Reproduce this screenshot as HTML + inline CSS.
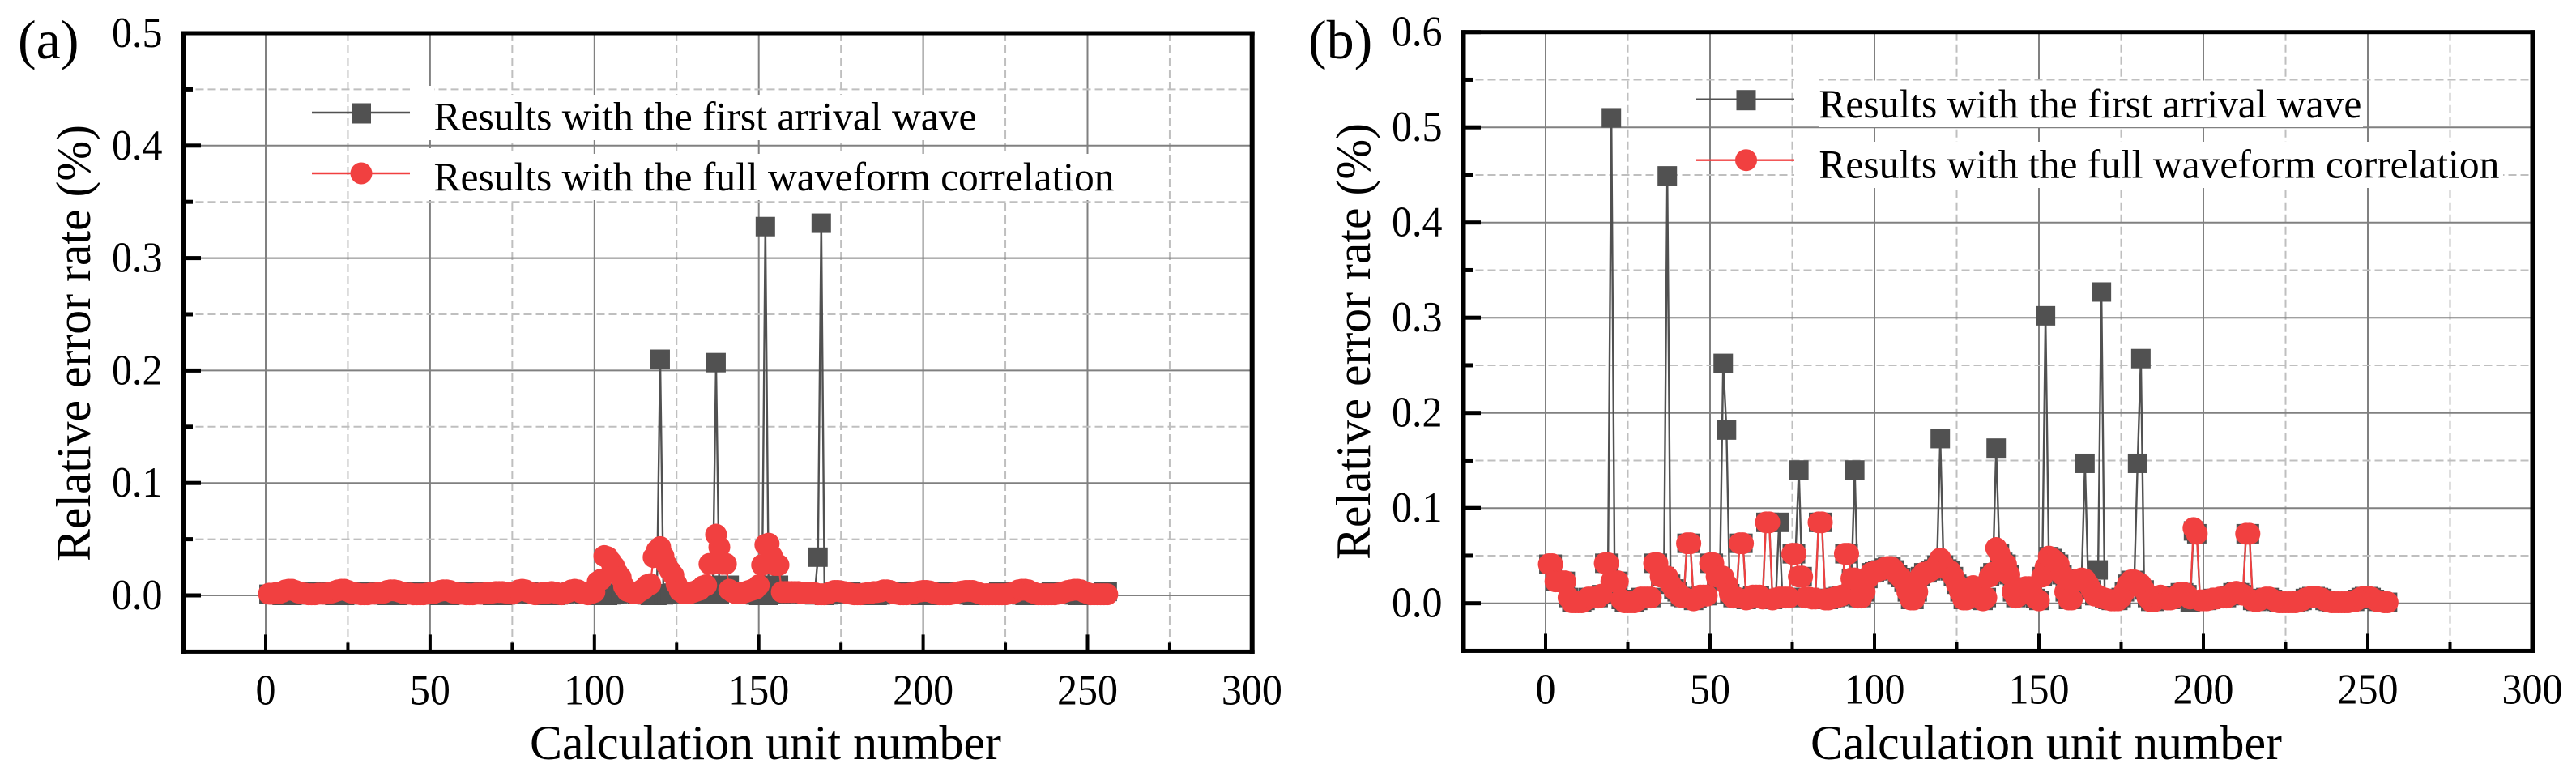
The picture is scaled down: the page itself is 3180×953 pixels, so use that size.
<!DOCTYPE html>
<html>
<head>
<meta charset="utf-8">
<title>Relative error rate charts</title>
<style>
html,body{margin:0;padding:0;background:#fff;}
svg{display:block;}
text{font-family:"Liberation Serif","Times New Roman",serif;fill:#000;}
</style>
</head>
<body>
<svg id="figure" xmlns="http://www.w3.org/2000/svg" width="3180" height="953" viewBox="0 0 3180 953"></svg>
<script>
const xTickValues = [0, 50, 100, 150, 200, 250, 300];
const yTicksA = [0.0, 0.1, 0.2, 0.3, 0.4, 0.5];
const yTicksB = [0.0, 0.1, 0.2, 0.3, 0.4, 0.5, 0.6];
const legendFirst = "Results with the first arrival wave";
const legendFull = "Results with the full waveform correlation";

const firstArrivalA = [
.001,.001,.001,.0005,.000,.000,.000,.000,.0005,.001,
.0015,.002,.003,.0035,.0035,.003,.001,.001,.001,.0005,
.000,.000,.000,.000,.0005,.001,.0015,.002,.003,.0035,
.0035,.003,.001,.001,.001,.0005,.000,.000,.000,.000,
.0005,.001,.0015,.002,.003,.0035,.0035,.003,.001,.001,
.001,.0005,.000,.000,.000,.000,.0005,.001,.0015,.002,
.003,.0035,.0035,.003,.001,.001,.001,.0005,.000,.000,
.000,.000,.0005,.001,.0015,.002,.003,.0035,.0035,.003,
.001,.001,.001,.0005,.000,.000,.000,.000,.0005,.001,
.0015,.002,.003,.0035,.0035,.003,.001,.001,.001,.0005,
.000,.000,.000,.000,.0005,.001,.0015,.002,.003,.0035,
.0035,.003,.001,.001,.001,.0005,.000,.000,.000,.210,
.0005,.001,.0015,.002,.003,.0035,.0035,.003,.001,.001,
.001,.003,.005,.005,.003,.001,.207,.001,.009,.009,
.009,.003,.0035,.0035,.003,.001,.001,.001,.0005,.000,
.000,.328,.000,.009,.009,.009,.001,.0015,.002,.003,
.0035,.0035,.003,.001,.001,.001,.0005,.034,.331,.000,
.0005,.001,.0015,.002,.003,.0035,.0035,.003,.001,.001,
.001,.0005,.000,.000,.000,.000,.0005,.001,.0015,.002,
.003,.0035,.0035,.003,.001,.001,.001,.0005,.000,.000,
.000,.000,.0005,.001,.0015,.002,.003,.0035,.0035,.003,
.001,.001,.001,.0005,.000,.000,.000,.000,.0005,.001,
.0015,.002,.003,.0035,.0035,.003,.001,.001,.001,.0005,
.000,.000,.000,.000,.0005,.001,.0015,.002,.003,.0035,
.0035,.003,.001,.001,.001,.0005,.000,.000,.000,.000,
.0005,.001,.0015,.002,.0035,.0035];

const fullWaveformA = [
.0015,.0015,.002,.002,.003,.0045,.005,.005,.004,.0025,
.002,.0015,.001,.001,.001,.0015,.0015,.0015,.002,.0025,
.0035,.0045,.005,.005,.004,.0025,.002,.0015,.001,.001,
.001,.0015,.0015,.002,.002,.0025,.004,.0045,.0045,.004,
.003,.002,.0015,.0015,.001,.001,.001,.001,.0015,.002,
.002,.003,.004,.0045,.0045,.004,.0025,.002,.0015,.0015,
.001,.001,.001,.0015,.0015,.0015,.002,.002,.0025,.003,
.003,.003,.0025,.002,.0015,.003,.0045,.005,.0045,.003,
.002,.001,.0015,.002,.002,.0025,.003,.0025,.0015,.001,
.002,.003,.0045,.005,.0045,.0025,.002,.001,.002,.003,
.012,.014,.035,.034,.030,.026,.020,.016,.008,.004,
.003,.002,.002,.004,.006,.009,.010,.034,.040,.043,
.035,.027,.022,.018,.010,.004,.002,.002,.002,.003,
.004,.005,.008,.009,.028,.028,.054,.043,.028,.028,
.005,.003,.002,.002,.002,.003,.004,.005,.006,.009,
.027,.045,.046,.035,.027,.027,.003,.003,.003,.003,
.003,.003,.002,.002,.002,.002,.002,.001,.001,.001,
.0015,.003,.004,.004,.0035,.003,.002,.0015,.001,.001,
.001,.0015,.002,.002,.003,.003,.0035,.0045,.0045,.004,
.002,.0015,.001,.001,.001,.0015,.002,.003,.0035,.004,
.004,.0035,.0025,.0015,.001,.001,.001,.001,.0015,.002,
.003,.0035,.004,.004,.004,.003,.002,.001,.001,.001,
.001,.001,.001,.001,.001,.0015,.002,.003,.0045,.005,
.005,.0045,.003,.002,.001,.001,.001,.001,.001,.001,
.0015,.002,.003,.004,.0045,.005,.005,.0045,.003,.002,
.001,.001,.001,.001,.001,.001];

const firstArrivalB = [
.041,.041,.023,.023,.023,.023,.006,.001,.001,.001,
.001,.003,.006,.006,.006,.006,.009,.042,.042,.510,
.023,.023,.004,.001,.001,.001,.001,.003,.006,.006,
.006,.006,.042,.042,.028,.028,.449,.020,.015,.012,
.007,.006,.063,.063,.003,.005,.008,.008,.008,.042,
.042,.028,.028,.252,.182,.010,.006,.006,.063,.063,
.004,.005,.008,.008,.008,.005,.085,.085,.004,.005,
.085,.006,.006,.006,.052,.052,.140,.028,.006,.006,
.005,.005,.085,.085,.004,.004,.005,.006,.007,.008,
.052,.052,.026,.140,.006,.006,.012,.026,.032,.033,
.034,.035,.037,.038,.038,.035,.030,.027,.022,.012,
.004,.004,.012,.028,.032,.032,.034,.036,.040,.173,
.040,.036,.034,.028,.020,.012,.004,.004,.010,.018,
.014,.008,.003,.006,.028,.032,.163,.052,.043,.041,
.030,.012,.006,.008,.012,.017,.017,.010,.005,.003,
.028,.302,.049,.047,.044,.041,.030,.012,.004,.004,
.024,.025,.026,.147,.020,.014,.008,.035,.327,.005,
.004,.003,.003,.003,.006,.012,.020,.024,.024,.147,
.257,.014,.006,.002,.002,.006,.008,.006,.004,.004,
.005,.008,.011,.011,.009,.001,.076,.073,.003,.003,
.003,.004,.005,.005,.006,.006,.006,.008,.011,.012,
.011,.009,.073,.073,.003,.002,.003,.005,.006,.006,
.004,.002,.001,.001,.001,.001,.001,.001,.002,.003,
.005,.006,.007,.007,.006,.005,.003,.002,.001,.001,
.001,.001,.001,.001,.002,.002,.004,.006,.007,.007,
.006,.004,.002,.002,.001,.001];

const fullWaveformB = [
.041,.041,.023,.023,.023,.023,.006,.001,.001,.001,
.001,.003,.006,.006,.006,.006,.009,.042,.042,.023,
.023,.023,.004,.001,.001,.001,.001,.003,.006,.006,
.006,.006,.042,.042,.028,.028,.028,.020,.015,.012,
.007,.006,.063,.063,.003,.005,.008,.008,.008,.042,
.042,.028,.028,.028,.020,.010,.006,.006,.063,.063,
.004,.005,.008,.008,.008,.005,.085,.085,.004,.005,
.006,.006,.006,.006,.052,.052,.028,.028,.006,.006,
.005,.005,.085,.085,.004,.004,.005,.006,.007,.008,
.052,.052,.026,.026,.006,.006,.012,.026,.032,.033,
.034,.035,.037,.038,.038,.035,.030,.027,.022,.012,
.004,.004,.012,.028,.032,.032,.034,.036,.040,.047,
.040,.036,.034,.028,.020,.012,.004,.004,.010,.018,
.014,.008,.003,.006,.028,.032,.058,.052,.043,.041,
.030,.012,.006,.008,.012,.017,.017,.010,.005,.003,
.028,.038,.049,.047,.044,.041,.030,.012,.004,.004,
.024,.025,.026,.025,.020,.014,.008,.008,.006,.005,
.004,.003,.003,.003,.006,.012,.020,.024,.024,.022,
.020,.014,.006,.002,.002,.006,.008,.006,.004,.004,
.005,.008,.011,.011,.009,.005,.079,.073,.003,.003,
.003,.004,.005,.005,.006,.006,.006,.008,.011,.012,
.011,.009,.073,.073,.003,.002,.003,.005,.006,.006,
.004,.002,.001,.001,.001,.001,.001,.001,.002,.003,
.005,.006,.007,.007,.006,.005,.003,.002,.001,.001,
.001,.001,.001,.001,.002,.002,.004,.006,.007,.007,
.006,.004,.002,.002,.001,.001];

const SVGNS = "http://www.w3.org/2000/svg";
const root = document.getElementById("figure");
const DARK = "#515151", RED = "#f14040", GRID = "#808080", MINOR = "#bfbfbf";

function make(tag, attrs, parent) {
  const el = document.createElementNS(SVGNS, tag);
  for (const k in attrs) el.setAttribute(k, attrs[k]);
  parent.appendChild(el);
  return el;
}

function labelWidth(s) {
  let w = 0;
  for (const c of s) w += (c === ".") ? 12.5 : 25;
  return w;
}

function drawPanel(cfg) {
  const g = make("g", {}, root);
  
  
  const sx = v => cfg.x0 + (v - 0) * cfg.pxPerX;
  const sy = v => cfg.y0 - v * cfg.pxPerY;
  const step = xTickValues[1] - xTickValues[0];
  const yStep = cfg.yTicks[1] - cfg.yTicks[0];
  const left = cfg.left, right = cfg.right, top = sy(cfg.yTicks[cfg.yTicks.length - 1]), bottom = sy(-yStep / 2);

  // grid
  const grid = make("g", {}, g);
  
  
  xTickValues.forEach(v => {
    if (sx(v) < right - 3) {
      const l = make("line", {x1: sx(v), x2: sx(v), y1: top, y2: bottom, stroke: GRID, "stroke-width": 2}, grid);
      
      
    }
    const mv = v + step / 2;
    if (sx(mv) < right - 3) {
      const m = make("line", {x1: sx(mv), x2: sx(mv), y1: top, y2: bottom, stroke: MINOR, "stroke-width": 2, "stroke-dasharray": "10 5"}, grid);
      
      
    }
  });
  cfg.yTicks.forEach((v, i) => {
    if (i < cfg.yTicks.length - 1) {
      const l = make("line", {x1: left, x2: right, y1: sy(v), y2: sy(v), stroke: GRID, "stroke-width": 2}, grid);
      
      
      const m = make("line", {x1: left, x2: right, y1: sy(v + yStep / 2), y2: sy(v + yStep / 2), stroke: MINOR, "stroke-width": 2, "stroke-dasharray": "10 5"}, grid);
      
      
    }
  });

  // white masks behind legend text
  cfg.masks.forEach(b => {
    const r = make("rect", {x: b[0], y: b[1], width: b[2], height: b[3], fill: "#fff"}, g);
    
    
  });

  // series: first arrival
  const s1 = make("g", {}, g);
  
  
  const p1 = make("polyline", {points: cfg.first.map((v, i) => sx(i + 1) + "," + sy(v)).join(" "), fill: "none", stroke: DARK, "stroke-width": 2.4}, s1);
  
  
  cfg.first.forEach((v, i) => {
    const r = make("rect", {x: sx(i + 1) - 12, y: sy(v) - 12, width: 24, height: 24, fill: DARK}, s1);
    
    
  });

  // series: full waveform
  const s2 = make("g", {}, g);
  
  
  const p2 = make("polyline", {points: cfg.full.map((v, i) => sx(i + 1) + "," + sy(v)).join(" "), fill: "none", stroke: RED, "stroke-width": 2.2}, s2);
  
  
  cfg.full.forEach((v, i) => {
    const c = make("circle", {cx: sx(i + 1), cy: sy(v), r: 13.5, fill: RED}, s2);
    
    
  });

  // spines
  [[left - 3, top - 2.5, 6, bottom - top + 5], [right - 3, top - 2.5, 6, bottom - top + 5],
   [left - 3, top - 2.5, right - left + 6, 5], [left - 3, bottom - 2.5, right - left + 6, 5]].forEach(b => {
    const r = make("rect", {x: b[0], y: b[1], width: b[2], height: b[3], fill: "#000"}, g);
    
    
  });

  // y ticks + labels
  cfg.yTicks.forEach((v, i) => {
    const t = make("rect", {x: left, y: sy(v) - 2.5, width: 21.5, height: 5, fill: "#000"}, g);
    
    
    if (i < cfg.yTicks.length - 1) {
      const m = make("rect", {x: left, y: sy(v + yStep / 2) - 2.5, width: 11.5, height: 5, fill: "#000"}, g);
      
      
    }
    const s = v.toFixed(1);
    const tx = make("text", {x: left - 26, y: sy(v) + 17, "font-size": 53, "text-anchor": "end", textLength: labelWidth(s), lengthAdjust: "spacingAndGlyphs"}, g);
    
    
    tx.textContent = s;
  });

  // x ticks + labels
  xTickValues.forEach(v => {
    if (sx(v) < right - 3) {
      const t = make("rect", {x: sx(v) - 2, y: bottom - 21, width: 4, height: 21, fill: "#000"}, g);
      
      
    }
    const mv = v + step / 2;
    if (sx(mv) < right - 3) {
      const m = make("rect", {x: sx(mv) - 2, y: bottom - 11, width: 4, height: 11, fill: "#000"}, g);
      
      
    }
    const s = String(v);
    const tx = make("text", {x: sx(v), y: bottom + 65, "font-size": 53, "text-anchor": "middle", textLength: labelWidth(s), lengthAdjust: "spacingAndGlyphs"}, g);
    
    
    tx.textContent = s;
  });

  // axis titles
  const xt = make("text", {x: cfg.xTitleX, y: 937, "font-size": 60, textLength: 582, lengthAdjust: "spacingAndGlyphs"}, g);
  
  
  xt.textContent = "Calculation unit number";
  const yt = make("text", {x: 0, y: 0, "font-size": 60, "text-anchor": "middle", textLength: 539, lengthAdjust: "spacingAndGlyphs", transform: "translate(" + cfg.yTitleX + "," + cfg.yTitleY + ") rotate(-90)"}, g);
  
  
  yt.textContent = "Relative error rate (%)";

  // panel tag
  const tag = make("text", {x: cfg.tagX, y: 72, "font-size": 68}, g);
  
  
  tag.textContent = cfg.tag;

  // legend
  const lg = make("g", {}, g);
  
  
  const l1 = make("line", {x1: cfg.lgX1, x2: cfg.lgX2, y1: cfg.lgY1, y2: cfg.lgY1, stroke: DARK, "stroke-width": 2.4}, lg);
  
  
  const lm = make("rect", {x: cfg.lgCx - 12, y: cfg.lgY1 - 11.5, width: 24, height: 25, fill: DARK}, lg);
  
  
  const t1 = make("text", {x: cfg.lgTextX, y: cfg.lgBase1, "font-size": 49.5, textLength: 670, lengthAdjust: "spacingAndGlyphs"}, lg);
  
  
  t1.textContent = legendFirst;
  const l2 = make("line", {x1: cfg.lgX1, x2: cfg.lgX2, y1: cfg.lgY2, y2: cfg.lgY2, stroke: RED, "stroke-width": 2.4}, lg);
  
  
  const lc = make("circle", {cx: cfg.lgCx, cy: cfg.lgY2, r: 13.5, fill: RED}, lg);
  
  
  const t2 = make("text", {x: cfg.lgTextX, y: cfg.lgBase2, "font-size": 49.5, textLength: 840, lengthAdjust: "spacingAndGlyphs"}, lg);
  
  
  t2.textContent = legendFull;
}

drawPanel({
  id: "a", tag: "(a)", tagX: 22,
  x0: 328, pxPerX: 4.058, y0: 735, pxPerY: 1388,
  left: 226.5, right: 1545.7,
  yTicks: yTicksA, first: firstArrivalA, full: fullWaveformA,
  xTitleX: 654, yTitleX: 111, yTitleY: 423.5,
  masks: [[508, 117, 702, 56], [508, 190, 870, 57], [506, 106, 30, 64], [506, 183, 30, 60]],
  lgX1: 385, lgX2: 506, lgCx: 446, lgY1: 139, lgY2: 214,
  lgTextX: 535.5, lgBase1: 160.7, lgBase2: 235
});

drawPanel({
  id: "b", tag: "(b)", tagX: 1615,
  x0: 1908, pxPerX: 4.06, y0: 744.7, pxPerY: 1175,
  left: 1806.5, right: 3126.5,
  yTicks: yTicksB, first: firstArrivalB, full: fullWaveformB,
  xTitleX: 2235, yTitleX: 1691, yTitleY: 421.5,
  masks: [[2245, 99.5, 672, 57.5], [2215, 96, 31, 5], [2215, 175, 875, 57]],
  lgX1: 2094, lgX2: 2215, lgCx: 2155.5, lgY1: 122.7, lgY2: 197.7,
  lgTextX: 2245.4, lgBase1: 145, lgBase2: 219.3
});
</script>
</body>
</html>
